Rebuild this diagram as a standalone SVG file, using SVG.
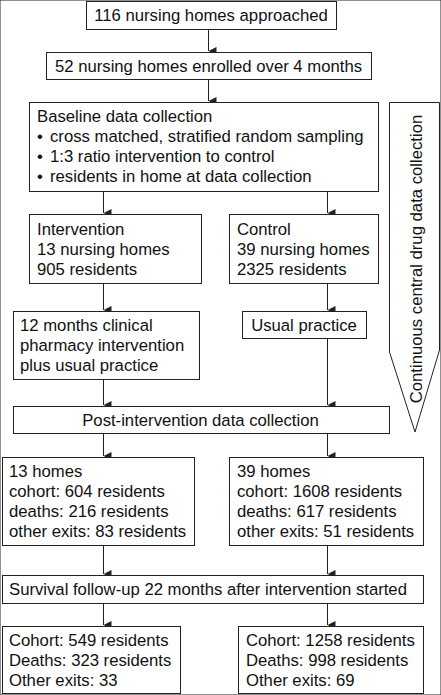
<svg xmlns="http://www.w3.org/2000/svg" width="441" height="695" viewBox="0 0 441 695">
<defs>
<marker id="ah" markerWidth="8" markerHeight="8" refX="3.5" refY="7" orient="auto-start-reverse" markerUnits="userSpaceOnUse" viewBox="0 0 7 7">
<path d="M0,0 L7,0 L3.5,7 Z" fill="#222"/>
</marker>
<style>
rect, .side{fill:#fff;stroke:#222;stroke-width:1}
text{font-family:"Liberation Sans",Arial,sans-serif;font-size:16.7px;fill:#111}
.c{text-anchor:middle}
#connectors line{stroke:#222;stroke-width:1}
</style>
</defs>
<rect x="0" y="0" width="441" height="695" fill="#fff" stroke="none"/>
<g id="connectors">
<line x1="208.5" y1="29" x2="208.5" y2="51" marker-end="url(#ah)"/>
<line x1="208.5" y1="79" x2="208.5" y2="101" marker-end="url(#ah)"/>
<line x1="103.5" y1="191" x2="103.5" y2="213" marker-end="url(#ah)"/>
<line x1="327.5" y1="191" x2="327.5" y2="213" marker-end="url(#ah)"/>
<line x1="103.5" y1="283" x2="103.5" y2="310" marker-end="url(#ah)"/>
<line x1="327.5" y1="283" x2="327.5" y2="310" marker-end="url(#ah)"/>
<line x1="103.5" y1="379" x2="103.5" y2="405" marker-end="url(#ah)"/>
<line x1="327.5" y1="338" x2="327.5" y2="405" marker-end="url(#ah)"/>
<line x1="103.5" y1="433" x2="103.5" y2="456" marker-end="url(#ah)"/>
<line x1="327.5" y1="433" x2="327.5" y2="456" marker-end="url(#ah)"/>
<line x1="103.5" y1="545" x2="103.5" y2="574" marker-end="url(#ah)"/>
<line x1="327.5" y1="545" x2="327.5" y2="574" marker-end="url(#ah)"/>
<line x1="103.5" y1="603" x2="103.5" y2="625" marker-end="url(#ah)"/>
<line x1="327.5" y1="603" x2="327.5" y2="625" marker-end="url(#ah)"/>
</g>
<g id="approached">
<rect x="86.5" y="1.5" width="250" height="28"/>
<text class="c" x="211" y="21">116 nursing homes approached</text>
</g>
<g id="enrolled">
<rect x="46.5" y="52.5" width="325" height="27"/>
<text class="c" x="208.5" y="72">52 nursing homes enrolled over 4 months</text>
</g>
<g id="baseline">
<rect x="29.5" y="102.5" width="349" height="89"/>
<text x="37" y="122">Baseline data collection</text>
<text x="37" y="142">•</text><text x="50" y="142">cross matched, stratified random sampling</text>
<text x="37" y="162">•</text><text x="50" y="162">1:3 ratio intervention to control</text>
<text x="37" y="182">•</text><text x="50" y="182">residents in home at data collection</text>
</g>
<g id="intervention">
<rect x="29.5" y="214.5" width="172" height="69"/>
<text x="37" y="235">Intervention</text>
<text x="37" y="255">13 nursing homes</text>
<text x="37" y="275">905 residents</text>
</g>
<g id="control">
<rect x="229.5" y="214.5" width="149" height="69"/>
<text x="237" y="235">Control</text>
<text x="237" y="255">39 nursing homes</text>
<text x="237" y="275">2325 residents</text>
</g>
<g id="pharmacy">
<rect x="13.5" y="311.5" width="186" height="68"/>
<text x="20" y="331">12 months clinical</text>
<text x="20" y="351">pharmacy intervention</text>
<text x="20" y="371">plus usual practice</text>
</g>
<g id="usual">
<rect x="242.5" y="311.5" width="124" height="27"/>
<text class="c" x="304" y="331">Usual practice</text>
</g>
<g id="continuous">
<path class="side" d="M389.5,102.5 L439.5,102.5 L439.5,350 L415,432 L389.5,352 Z"/>
<text class="c" transform="translate(422,259) rotate(-90)" x="0" y="0">Continuous central drug data collection</text>
</g>
<g id="post">
<rect x="13.5" y="406.5" width="376" height="27"/>
<text class="c" x="200.5" y="426">Post-intervention data collection</text>
</g>
<g id="post-int">
<rect x="2.5" y="457.5" width="192" height="88"/>
<text x="9" y="477">13 homes</text>
<text x="9" y="497">cohort: 604 residents</text>
<text x="9" y="517">deaths: 216 residents</text>
<text x="9" y="537">other exits: 83 residents</text>
</g>
<g id="post-ctrl">
<rect x="229.5" y="457.5" width="194" height="88"/>
<text x="237" y="477">39 homes</text>
<text x="237" y="497">cohort: 1608 residents</text>
<text x="237" y="517">deaths: 617 residents</text>
<text x="237" y="537">other exits: 51 residents</text>
</g>
<g id="survival">
<rect x="2.5" y="575.5" width="421" height="28"/>
<text x="9" y="595">Survival follow-up 22 months after intervention started</text>
</g>
<g id="final-int">
<rect x="2.5" y="626.5" width="178" height="67"/>
<text x="9" y="646">Cohort: 549 residents</text>
<text x="9" y="666">Deaths: 323 residents</text>
<text x="9" y="686">Other exits: 33</text>
</g>
<g id="final-ctrl">
<rect x="238.5" y="626.5" width="185" height="67"/>
<text x="246" y="646">Cohort: 1258 residents</text>
<text x="246" y="666">Deaths: 998 residents</text>
<text x="246" y="686">Other exits: 69</text>
</g>
</svg>
